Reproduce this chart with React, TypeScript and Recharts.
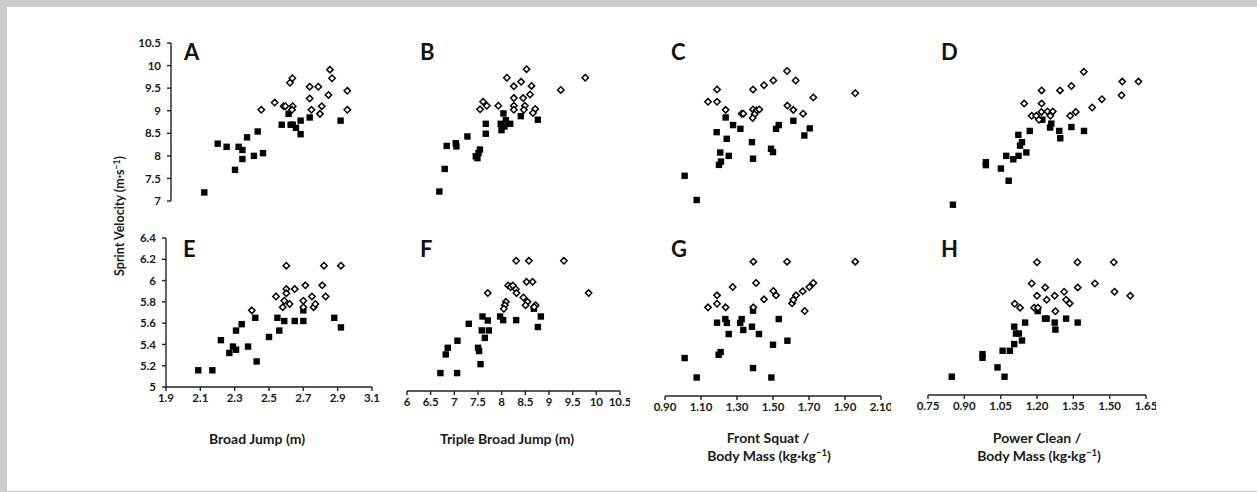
import React from "react";
import { ScatterChart, Scatter, XAxis, YAxis } from "recharts";

// [x, y] pairs; squares = filled markers, diamonds = open markers
const aSquares: [number, number][] = [
  [2.094, 7.19], [2.172, 8.27], [2.224, 8.2], [2.273, 7.69], [2.294, 8.2], [2.316, 8.13], [2.316, 7.93],
  [2.343, 8.41], [2.383, 8.0], [2.405, 8.54], [2.436, 8.06], [2.545, 8.69], [2.585, 8.93], [2.597, 8.69],
  [2.609, 8.69], [2.628, 8.62], [2.655, 8.78], [2.655, 8.48], [2.708, 8.85], [2.888, 8.78],
];
const aDiamonds: [number, number][] = [
  [2.426, 9.02], [2.504, 9.18], [2.556, 9.1], [2.566, 9.1], [2.593, 9.62], [2.607, 9.72], [2.609, 9.1],
  [2.605, 9.02], [2.708, 9.53], [2.708, 9.27], [2.718, 9.02], [2.758, 9.53], [2.778, 9.1], [2.768, 8.93],
  [2.817, 9.35], [2.826, 9.91], [2.838, 9.72], [2.927, 9.44], [2.927, 9.02],
];
const bSquares: [number, number][] = [
  [6.684, 7.21], [6.797, 7.71], [6.839, 8.22], [7.03, 8.28], [7.044, 8.21], [7.276, 8.43], [7.453, 7.99],
  [7.488, 7.95], [7.51, 8.06], [7.54, 8.14], [7.664, 8.49], [7.664, 8.71], [7.996, 8.57], [7.98, 8.71],
  [8.038, 8.94], [8.087, 8.79], [8.06, 8.65], [8.18, 8.71], [8.405, 8.88], [8.765, 8.8],
];
const bDiamonds: [number, number][] = [
  [7.544, 9.03], [7.608, 9.2], [7.686, 9.11], [7.93, 9.11], [8.11, 9.73], [8.257, 9.54], [8.41, 9.64],
  [8.525, 9.92], [8.63, 9.55], [8.257, 9.28], [8.454, 9.28], [8.6, 9.36], [8.257, 9.11], [8.257, 9.02],
  [8.49, 9.11], [8.468, 9.02], [8.708, 9.04], [8.66, 8.95], [9.25, 9.46], [9.766, 9.73],
];
const cSquares: [number, number][] = [
  [1.009, 7.7], [1.076, 7.19], [1.237, 8.93], [1.187, 8.62], [1.278, 8.77], [1.319, 8.69], [1.243, 8.48],
  [1.207, 8.19], [1.254, 8.12], [1.211, 8.0], [1.2, 7.93], [1.383, 8.41], [1.389, 8.06], [1.489, 8.27],
  [1.5, 8.2], [1.517, 8.69], [1.532, 8.77], [1.613, 8.86], [1.674, 8.55], [1.704, 8.7],
];
const cDiamonds: [number, number][] = [
  [1.189, 9.52], [1.139, 9.26], [1.189, 9.26], [1.237, 9.09], [1.326, 9.01], [1.335, 9.01], [1.389, 9.52],
  [1.45, 9.61], [1.502, 9.71], [1.578, 9.91], [1.626, 9.71], [1.389, 9.1], [1.409, 9.08], [1.424, 9.1],
  [1.398, 9.0], [1.387, 8.92], [1.58, 9.18], [1.613, 9.09], [1.667, 9.01], [1.724, 9.35], [1.957, 9.44],
];
const dSquares: [number, number][] = [
  [0.853, 7.19], [0.989, 8.06], [0.989, 8.0], [1.051, 7.93], [1.083, 7.68], [1.073, 8.19], [1.102, 8.12],
  [1.124, 8.19], [1.156, 8.26], [1.13, 8.4], [1.138, 8.47], [1.123, 8.62], [1.17, 8.7], [1.222, 8.93],
  [1.259, 8.85], [1.254, 8.77], [1.292, 8.7], [1.296, 8.55], [1.342, 8.78], [1.394, 8.7],
];
const dDiamonds: [number, number][] = [
  [1.147, 9.26], [1.219, 9.53], [1.219, 9.26], [1.295, 9.53], [1.342, 9.62], [1.393, 9.91], [1.552, 9.71],
  [1.619, 9.71], [1.549, 9.43], [1.468, 9.35], [1.428, 9.18], [1.36, 9.09], [1.337, 9.01], [1.178, 9.01],
  [1.197, 9.01], [1.218, 9.09], [1.243, 9.1], [1.265, 9.1], [1.255, 9.01], [1.208, 8.93],
];
const eSquares: [number, number][] = [
  [2.088, 5.157], [2.17, 5.157], [2.22, 5.44], [2.269, 5.32], [2.29, 5.38], [2.308, 5.35], [2.308, 5.53],
  [2.341, 5.59], [2.378, 5.38], [2.42, 5.65], [2.428, 5.24], [2.5, 5.47], [2.549, 5.65], [2.56, 5.53],
  [2.589, 5.62], [2.65, 5.62], [2.7, 5.62], [2.7, 5.72], [2.88, 5.65], [2.919, 5.56],
];
const eDiamonds: [number, number][] = [
  [2.4, 5.72], [2.541, 5.85], [2.589, 5.81], [2.58, 5.75], [2.601, 6.14], [2.601, 5.92], [2.601, 5.88],
  [2.62, 5.78], [2.65, 5.92], [2.7, 5.81], [2.7, 5.75], [2.712, 5.955], [2.75, 5.85], [2.76, 5.75],
  [2.77, 5.78], [2.81, 5.955], [2.82, 6.14], [2.83, 5.85], [2.919, 6.14],
];
const fSquares: [number, number][] = [
  [6.706, 5.157], [7.058, 5.157], [6.819, 5.32], [6.861, 5.378], [7.066, 5.44], [7.305, 5.588], [7.502, 5.378],
  [7.523, 5.35], [7.553, 5.235], [7.58, 5.53], [7.595, 5.652], [7.644, 5.465], [7.707, 5.617], [7.728, 5.53],
  [7.967, 5.652], [8.031, 5.62], [8.306, 5.62], [8.68, 5.72], [8.765, 5.56], [8.828, 5.652],
];
const fDiamonds: [number, number][] = [
  [7.707, 5.857], [8.306, 6.139], [8.575, 6.139], [9.315, 6.139], [8.526, 5.955], [8.653, 5.955], [9.837, 5.857],
  [8.137, 5.923], [8.187, 5.909], [8.236, 5.923], [8.3, 5.89], [8.313, 5.857], [8.088, 5.78], [8.067, 5.75],
  [8.046, 5.72], [8.46, 5.818], [8.546, 5.78], [8.505, 5.75], [8.716, 5.75], [8.687, 5.735],
];
const gSquares: [number, number][] = [
  [1.009, 5.322], [1.076, 5.157], [1.189, 5.622], [1.235, 5.653], [1.244, 5.62], [1.254, 5.526], [1.198, 5.35],
  [1.209, 5.373], [1.318, 5.62], [1.326, 5.653], [1.335, 5.56], [1.383, 5.588], [1.389, 5.724], [1.422, 5.526],
  [1.389, 5.237], [1.491, 5.157], [1.5, 5.435], [1.532, 5.653], [1.58, 5.469],
];
const gDiamonds: [number, number][] = [
  [1.139, 5.752], [1.189, 5.783], [1.189, 5.854], [1.237, 5.752], [1.276, 5.925], [1.391, 6.14], [1.406, 5.959],
  [1.391, 5.752], [1.45, 5.82], [1.502, 5.891], [1.517, 5.854], [1.578, 6.14], [1.606, 5.786], [1.613, 5.817],
  [1.628, 5.854], [1.665, 5.888], [1.702, 5.925], [1.724, 5.959], [1.676, 5.721], [1.957, 6.14],
];
const hSquares: [number, number][] = [
  [0.848, 5.157], [0.975, 5.351], [0.975, 5.32], [1.037, 5.237], [1.066, 5.157], [1.058, 5.38], [1.088, 5.38],
  [1.106, 5.437], [1.138, 5.468], [1.106, 5.587], [1.113, 5.528], [1.125, 5.528], [1.151, 5.622], [1.203, 5.721],
  [1.233, 5.656], [1.24, 5.656], [1.273, 5.622], [1.276, 5.562], [1.32, 5.656], [1.368, 5.622],
];
const hDiamonds: [number, number][] = [
  [1.108, 5.784], [1.13, 5.75], [1.178, 5.958], [1.2, 6.14], [1.2, 5.852], [1.188, 5.75], [1.204, 5.75],
  [1.234, 5.924], [1.24, 5.818], [1.273, 5.852], [1.276, 5.719], [1.312, 5.887], [1.32, 5.818], [1.335, 5.787],
  [1.367, 6.14], [1.368, 5.924], [1.439, 5.958], [1.517, 6.14], [1.52, 5.887], [1.585, 5.852],
];

const topTicks = [7, 7.5, 8, 8.5, 9, 9.5, 10, 10.5];
const bottomTicks = [5, 5.2, 5.4, 5.6, 5.8, 6, 6.2, 6.4];
const broadTicks = [1.9, 2.1, 2.3, 2.5, 2.7, 2.9, 3.1];
const tripleTicks = [6, 6.5, 7, 7.5, 8, 8.5, 9, 9.5, 10, 10.5];
const squatTicks = [0.9, 1.1, 1.3, 1.5, 1.7, 1.9, 2.1];
const cleanTicks = [0.75, 0.9, 1.05, 1.2, 1.35, 1.5, 1.65];

const FONT = "Lato, 'Open Sans', sans-serif";
const INK = "#1a1a1a";

const toPts = (arr: [number, number][]) => arr.map(([x, y]) => ({ x, y }));

const Square = (p: any) => <rect x={p.cx - 3.2} y={p.cy - 3.2} width={6.4} height={6.4} fill="#000" />;
const Diamond = (p: any) => (
  <polygon
    points={`${p.cx},${p.cy - 3.2} ${p.cx + 3.2},${p.cy} ${p.cx},${p.cy + 3.2} ${p.cx - 3.2},${p.cy}`}
    fill="#fff" stroke="#000" strokeWidth={1.5}
  />
);

type Box = { x0: number; x1: number; y0: number; y1: number };

function Panel({ box, xDomain, yDomain, xTicks, yTicks, showX, showY, fmt, squares, diamonds }: {
  box: Box; xDomain: [number, number]; yDomain: [number, number]; xTicks: number[]; yTicks: number[];
  showX?: boolean; showY?: boolean; fmt?: (v: number) => string;
  squares: [number, number][]; diamonds: [number, number][];
}) {
  const padL = 50, padR = 10, padT = 10, padB = 30;
  const yw = showY ? 44 : 0;
  const xh = showX ? 26 : 0;
  const w = box.x1 - box.x0 + padL + padR;
  const h = box.y1 - box.y0 + padT + padB;
  const tick = { fill: INK, fontSize: 11.5, fontWeight: 700, fontFamily: FONT };
  const line = { stroke: "#222", strokeWidth: 1.4 };
  return (
    <div style={{ position: "absolute", left: box.x0 - padL, top: box.y0 - padT }}>
      <ScatterChart width={w} height={h} margin={{ top: padT, right: padR, left: padL - yw, bottom: padB - xh }}>
        <XAxis type="number" dataKey="x" domain={xDomain} ticks={xTicks} hide={!showX} height={xh}
          tick={tick} tickFormatter={fmt} axisLine={line} tickLine={line} tickSize={4} tickMargin={3} interval={0} />
        <YAxis type="number" dataKey="y" domain={yDomain} ticks={yTicks} hide={!showY} width={yw}
          tick={tick} axisLine={line} tickLine={line} tickSize={4} tickMargin={6} interval={0} />
        <Scatter data={toPts(squares)} shape={Square} isAnimationActive={false} />
        <Scatter data={toPts(diamonds)} shape={Diamond} isAnimationActive={false} />
      </ScatterChart>
    </div>
  );
}

const two = (v: number) => v.toFixed(2);

export default function App() {
  const letter = { fontFamily: FONT, fontSize: 22, fontWeight: 700, fill: "#111" };
  const title = { fontFamily: FONT, fontSize: 14, fontWeight: 700, fill: INK, textAnchor: "middle" as const };
  return (
    <div style={{ position: "absolute", left: 0, top: 0, width: 1257, height: 492, background: "#cdcdcd" }}>
      <div style={{ position: "absolute", left: 7, top: 7, width: 1250, height: 484, background: "#fff" }} />

      <Panel box={{ x0: 171, x1: 377, y0: 43, y1: 201 }} xDomain={[1.9, 3.1]} yDomain={[7, 10.5]}
        xTicks={broadTicks} yTicks={topTicks} showY squares={aSquares} diamonds={aDiamonds} />
      <Panel box={{ x0: 407, x1: 620, y0: 43, y1: 201 }} xDomain={[6, 10.5]} yDomain={[7, 10.5]}
        xTicks={tripleTicks} yTicks={topTicks} squares={bSquares} diamonds={bDiamonds} />
      <Panel box={{ x0: 665, x1: 881, y0: 43, y1: 209 }} xDomain={[0.9, 2.1]} yDomain={[7, 10.5]}
        xTicks={squatTicks} yTicks={topTicks} squares={cSquares} diamonds={cDiamonds} />
      <Panel box={{ x0: 928, x1: 1146, y0: 43, y1: 214 }} xDomain={[0.75, 1.65]} yDomain={[7, 10.5]}
        xTicks={cleanTicks} yTicks={topTicks} squares={dSquares} diamonds={dDiamonds} />

      <Panel box={{ x0: 166, x1: 372, y0: 238, y1: 387 }} xDomain={[1.9, 3.1]} yDomain={[5, 6.4]}
        xTicks={broadTicks} yTicks={bottomTicks} showX showY squares={eSquares} diamonds={eDiamonds} />
      <Panel box={{ x0: 407, x1: 620, y0: 231, y1: 391 }} xDomain={[6, 10.5]} yDomain={[5, 6.4]}
        xTicks={tripleTicks} yTicks={bottomTicks} showX squares={fSquares} diamonds={fDiamonds} />
      <Panel box={{ x0: 665, x1: 881, y0: 231, y1: 396 }} xDomain={[0.9, 2.1]} yDomain={[5, 6.4]}
        xTicks={squatTicks} yTicks={bottomTicks} showX fmt={two} squares={gSquares} diamonds={gDiamonds} />
      <Panel box={{ x0: 928, x1: 1146, y0: 232, y1: 395 }} xDomain={[0.75, 1.65]} yDomain={[5, 6.4]}
        xTicks={cleanTicks} yTicks={bottomTicks} showX fmt={two} squares={hSquares} diamonds={hDiamonds} />

      <svg width={1257} height={492} style={{ position: "absolute", left: 0, top: 0, pointerEvents: "none" }}>
        <text x={184} y={60} {...letter}>A</text>
        <text x={420} y={60} {...letter}>B</text>
        <text x={671} y={60} {...letter}>C</text>
        <text x={941} y={60} {...letter}>D</text>
        <text x={183} y={257} {...letter}>E</text>
        <text x={420} y={257} {...letter}>F</text>
        <text x={671} y={257} {...letter}>G</text>
        <text x={941} y={257} {...letter}>H</text>

        <text transform="translate(124,216) rotate(-90)" textAnchor="middle" fontFamily={FONT}
          fontSize={12.5} fontWeight={700} fill={INK}>
          Sprint Velocity (m·s<tspan dy={-4} fontSize={8.5}>−1</tspan><tspan dy={4}>)</tspan>
        </text>

        <text x={257} y={444} {...title}>Broad Jump (m)</text>
        <text x={507} y={444} {...title}>Triple Broad Jump (m)</text>
        <text x={768} y={443} {...title}>Front Squat /</text>
        <text x={769} y={461} {...title}>
          Body Mass (kg·kg<tspan dy={-5} fontSize={9.5}>−1</tspan><tspan dy={5}>)</tspan>
        </text>
        <text x={1037} y={443} {...title}>Power Clean /</text>
        <text x={1039} y={461} {...title}>
          Body Mass (kg·kg<tspan dy={-5} fontSize={9.5}>−1</tspan><tspan dy={5}>)</tspan>
        </text>
      </svg>
    </div>
  );
}
